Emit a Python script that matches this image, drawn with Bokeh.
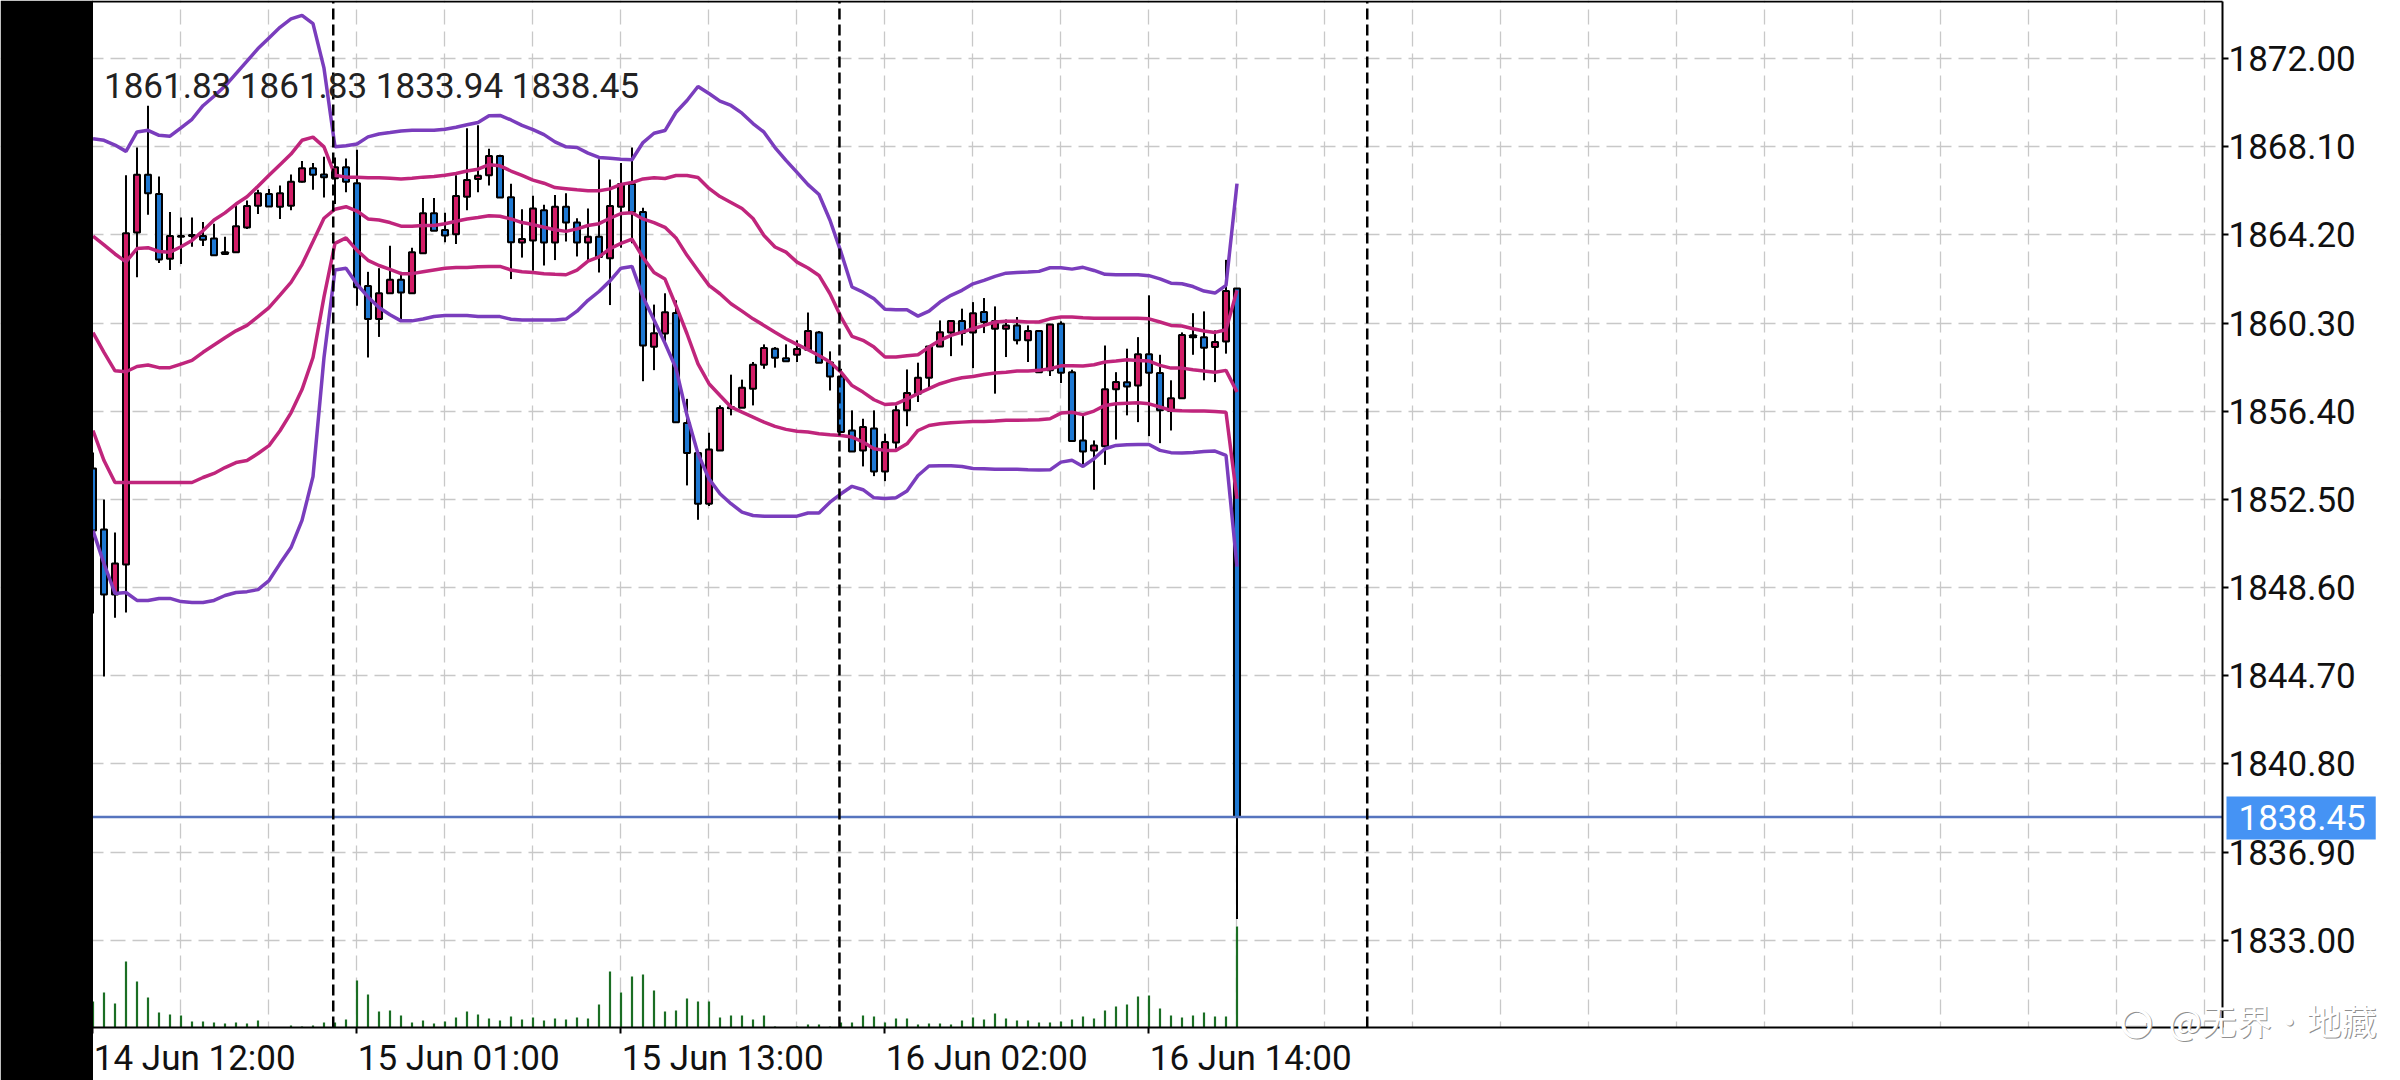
from bokeh.plotting import figure
from bokeh.models import (ColumnDataSource, FixedTicker, Label, BoxAnnotation, Range1d, LinearAxis, Grid,
                          NumeralTickFormatter)
from bokeh.embed import file_html
from bokeh.resources import INLINE

opens = [1853.87,1851.17,1848.29,1849.62,1864.31,1866.87,1866.01,1863.15,1864.15,1864.15,1864.15,1864.04,1863.44,1863.44,1864.53,
         1865.49,1866.01,1865.45,1865.49,1866.55,1867.15,1866.88,1866.71,1867.20,1866.49,1861.94,1860.48,1861.62,1862.22,1861.62,
         1863.39,1865.16,1864.42,1864.23,1865.89,1866.68,1866.84,1867.69,1865.87,1863.87,1863.96,1865.29,1863.87,1865.45,1864.75,
         1863.87,1864.12,1863.17,1865.45,1866.46,1865.22,1859.25,1859.84,1860.75,1855.88,1854.55,1852.31,1854.67,1856.53,1856.56,
         1857.40,1858.46,1859.17,1858.75,1858.90,1859.12,1859.89,1858.56,1857.94,1855.55,1854.67,1855.64,1853.74,1855.02,1856.44,
         1857.18,1857.88,1859.27,1859.89,1860.39,1859.89,1860.79,1860.05,1860.05,1860.20,1859.54,1859.95,1858.21,1860.27,1858.13,
         1855.11,1854.67,1854.85,1857.38,1857.68,1857.54,1858.92,1858.09,1856.41,1856.98,1859.68,1859.68,1859.24,1859.49,1861.83]
highs = [1854.58,1852.50,1851.04,1866.84,1868.07,1869.92,1866.79,1865.22,1864.97,1864.97,1864.78,1864.70,1864.12,1865.57,1865.73,
         1866.20,1866.24,1866.39,1866.88,1867.47,1867.39,1867.66,1867.63,1867.58,1867.97,1862.57,1862.73,1863.72,1862.57,1863.63,
         1865.84,1865.84,1865.18,1866.84,1868.92,1869.05,1868.02,1867.75,1866.47,1865.34,1865.94,1865.54,1865.97,1866.05,1864.94,
         1865.37,1867.55,1866.65,1867.39,1868.07,1865.41,1861.12,1861.62,1861.31,1856.95,1854.55,1855.45,1856.66,1858.02,1857.80,
         1858.58,1859.36,1859.24,1859.36,1859.54,1860.77,1859.95,1859.05,1858.28,1856.44,1856.07,1856.44,1855.41,1856.66,1858.25,
         1858.55,1859.31,1860.42,1860.42,1860.94,1861.23,1861.41,1861.04,1860.46,1860.57,1860.20,1859.95,1860.27,1860.38,1858.24,
         1856.19,1855.11,1859.31,1858.13,1859.17,1859.68,1861.53,1858.90,1857.77,1859.89,1860.74,1860.82,1859.98,1863.10,1861.83]
lows = [1847.45,1844.66,1847.27,1847.50,1862.33,1865.10,1862.96,1862.65,1862.92,1863.68,1863.71,1863.30,1863.36,1863.44,1864.47,
        1865.13,1865.46,1864.91,1865.29,1866.52,1866.20,1865.86,1865.57,1866.09,1861.07,1858.78,1859.69,1861.62,1860.48,1861.62,
        1863.39,1864.39,1863.88,1863.80,1865.30,1866.09,1866.39,1865.86,1862.25,1863.20,1862.62,1862.85,1863.09,1863.91,1863.25,
        1863.01,1862.54,1861.10,1863.64,1863.83,1857.73,1858.22,1859.33,1855.92,1853.12,1851.60,1852.21,1854.67,1856.22,1856.56,
        1856.66,1858.28,1858.33,1858.61,1858.58,1859.09,1858.55,1857.32,1855.48,1854.62,1853.96,1853.53,1853.31,1854.74,1855.74,
        1856.81,1857.40,1859.24,1858.84,1859.31,1858.31,1859.86,1857.18,1858.80,1859.36,1858.58,1858.13,1857.96,1857.65,1855.04,
        1854.00,1852.93,1854.03,1855.15,1856.22,1855.92,1855.30,1854.99,1855.55,1856.98,1858.90,1857.77,1857.69,1858.95,1833.94]
closes = [1851.12,1848.29,1849.66,1864.28,1866.87,1866.05,1863.12,1864.15,1864.12,1864.20,1863.99,1863.30,1863.36,1864.59,1865.48,
          1866.05,1865.46,1866.05,1866.55,1867.15,1866.87,1866.76,1867.20,1866.55,1861.89,1860.48,1861.62,1862.22,1861.65,1863.44,
          1865.16,1864.39,1864.18,1865.92,1866.63,1866.82,1867.69,1865.86,1863.88,1864.02,1865.37,1863.87,1865.45,1864.75,1863.87,
          1864.12,1863.23,1865.48,1866.46,1865.22,1859.31,1859.85,1860.78,1855.92,1854.55,1852.31,1854.71,1856.54,1856.59,1857.44,
          1858.46,1859.20,1858.77,1858.61,1859.15,1859.95,1858.55,1857.94,1855.48,1854.62,1855.70,1853.74,1855.04,1856.44,1857.21,
          1857.88,1859.27,1859.90,1860.39,1859.86,1860.74,1860.35,1860.39,1860.20,1859.54,1859.95,1858.13,1860.24,1858.10,1855.08,
          1854.62,1854.89,1857.38,1857.69,1857.50,1858.92,1858.10,1856.44,1856.98,1859.77,1859.76,1859.21,1859.46,1861.72,1838.45]
volumes = [26,35,24,66,46,30,15,13,12,6,6,5,4,5,4,7,0,0,2,1,2,5,5,8,47,33,16,17,12,5,7,4,6,10,16,13,9,7,11,8,10,7,9,8,10,9,23,56,35,
           51,53,37,16,17,29,26,26,10,12,12,8,12,1,0,1,3,3,1,5,5,12,11,5,9,9,3,4,4,3,7,10,8,14,9,7,7,5,5,6,8,11,9,17,21,23,31,32,19,12,
           10,12,15,11,11,101]

band_upper2 = [1868.46,1868.39,1868.18,1867.90,1868.76,1868.83,1868.61,1868.57,1868.94,1869.32,1869.92,1870.34,1870.79,1871.34,1871.89,
               1872.45,1872.92,1873.39,1873.76,1873.92,1873.55,1871.58,1868.10,1868.15,1868.23,1868.54,1868.67,1868.73,1868.80,1868.83,
               1868.83,1868.83,1868.88,1868.97,1869.08,1869.18,1869.48,1869.49,1869.29,1869.05,1868.86,1868.64,1868.32,1868.10,1868.07,
               1867.82,1867.63,1867.60,1867.55,1867.53,1868.29,1868.70,1868.82,1869.63,1870.15,1870.77,1870.46,1870.12,1869.93,1869.59,
               1869.13,1868.75,1868.07,1867.50,1866.97,1866.43,1865.99,1864.85,1863.44,1861.90,1861.67,1861.38,1860.91,1860.89,1860.89,
               1860.61,1860.83,1861.23,1861.53,1861.75,1862.04,1862.19,1862.37,1862.51,1862.54,1862.56,1862.59,1862.75,1862.75,1862.69,
               1862.77,1862.63,1862.46,1862.44,1862.44,1862.44,1862.40,1862.26,1862.07,1862.04,1861.92,1861.72,1861.63,1861.97,1866.47]
band_upper1 = [1864.15,1863.76,1863.36,1863.01,1863.60,1863.64,1863.47,1863.44,1863.68,1863.96,1864.39,1864.86,1865.18,1865.57,1865.89,
               1866.36,1866.84,1867.31,1867.78,1868.39,1868.53,1868.10,1866.84,1866.76,1866.76,1866.73,1866.73,1866.71,1866.68,1866.71,
               1866.76,1866.79,1866.84,1866.92,1867.03,1867.11,1867.31,1867.26,1867.03,1866.84,1866.63,1866.49,1866.30,1866.25,1866.20,
               1866.16,1866.16,1866.24,1866.44,1866.52,1866.68,1866.73,1866.70,1866.83,1866.83,1866.74,1866.26,1865.90,1865.64,1865.37,
               1864.93,1864.18,1863.67,1863.44,1863.00,1862.74,1862.41,1861.60,1860.57,1859.71,1859.54,1859.24,1858.80,1858.80,1858.86,
               1858.90,1859.24,1859.54,1859.76,1859.90,1860.05,1860.20,1860.35,1860.38,1860.38,1860.35,1860.35,1860.49,1860.57,1860.57,
               1860.54,1860.52,1860.52,1860.52,1860.52,1860.52,1860.49,1860.35,1860.20,1860.17,1860.05,1859.95,1859.89,1860.01,1861.75]
band_mid = [1859.88,1859.01,1858.19,1858.15,1858.38,1858.45,1858.33,1858.33,1858.49,1858.65,1859.01,1859.33,1859.65,1859.96,1860.20,
            1860.59,1860.99,1861.54,1862.10,1862.89,1863.91,1864.94,1865.34,1865.45,1865.26,1864.91,1864.86,1864.75,1864.59,1864.59,
            1864.62,1864.62,1864.70,1864.81,1864.91,1864.97,1865.05,1865.03,1864.91,1864.75,1864.66,1864.54,1864.43,1864.36,1864.47,
            1864.62,1864.70,1864.94,1865.15,1865.18,1864.91,1864.75,1864.54,1864.07,1863.30,1862.63,1861.97,1861.60,1861.16,1860.83,
            1860.49,1860.20,1859.90,1859.61,1859.36,1859.12,1858.87,1858.58,1858.13,1857.54,1857.25,1856.91,1856.70,1856.73,1856.95,
            1857.18,1857.40,1857.62,1857.77,1857.88,1857.94,1858.03,1858.09,1858.13,1858.18,1858.18,1858.21,1858.28,1858.41,1858.41,
            1858.40,1858.46,1858.58,1858.62,1858.68,1858.65,1858.62,1858.43,1858.31,1858.31,1858.24,1858.18,1858.13,1858.21,1857.25]
band_lower1 = [1855.55,1854.22,1853.25,1853.25,1853.25,1853.25,1853.25,1853.25,1853.25,1853.25,1853.47,1853.65,1853.91,1854.13,1854.22,
               1854.53,1854.88,1855.54,1856.33,1857.36,1858.78,1861.46,1863.83,1864.07,1863.52,1863.08,1862.85,1862.68,1862.49,1862.49,
               1862.57,1862.65,1862.73,1862.76,1862.76,1862.79,1862.81,1862.81,1862.65,1862.57,1862.54,1862.49,1862.46,1862.44,1862.65,
               1863.04,1863.23,1863.60,1863.83,1864.02,1863.20,1862.54,1862.25,1861.07,1859.83,1858.50,1857.62,1857.10,1856.59,1856.36,
               1856.14,1855.92,1855.73,1855.60,1855.52,1855.48,1855.41,1855.36,1855.33,1855.26,1855.04,1854.74,1854.67,1854.67,1854.96,
               1855.55,1855.77,1855.85,1855.89,1855.92,1855.95,1855.95,1855.97,1856.00,1856.00,1856.01,1856.03,1856.07,1856.32,1856.36,
               1856.25,1856.41,1856.66,1856.73,1856.76,1856.78,1856.73,1856.59,1856.44,1856.42,1856.41,1856.41,1856.39,1856.36,1852.53]
band_lower2 = [1851.12,1849.66,1848.34,1848.38,1848.03,1848.03,1848.12,1848.12,1847.98,1847.94,1847.94,1848.03,1848.25,1848.38,1848.42,
               1848.51,1848.91,1849.66,1850.37,1851.57,1853.51,1858.78,1862.65,1862.73,1862.02,1861.46,1860.99,1860.67,1860.40,1860.40,
               1860.48,1860.59,1860.64,1860.64,1860.64,1860.59,1860.59,1860.59,1860.47,1860.44,1860.44,1860.44,1860.44,1860.48,1860.83,
               1861.31,1861.70,1862.17,1862.73,1862.81,1861.46,1860.44,1859.41,1858.30,1856.22,1854.52,1853.41,1852.75,1852.31,1851.94,
               1851.79,1851.76,1851.76,1851.76,1851.76,1851.90,1851.90,1852.38,1852.75,1853.08,1852.93,1852.57,1852.54,1852.57,1852.87,
               1853.56,1853.98,1853.99,1853.99,1853.96,1853.87,1853.86,1853.84,1853.83,1853.83,1853.81,1853.80,1853.81,1854.15,1854.23,
               1853.96,1854.30,1854.74,1854.89,1854.92,1854.93,1854.93,1854.67,1854.57,1854.55,1854.58,1854.62,1854.64,1854.45,1849.53]

price_ticks = [1872.00,1868.10,1864.20,1860.30,1856.40,1852.50,1848.60,1844.70,1840.80,1836.90,1833.00]
time_tick_bars = [0,24,48,72,96]
time_labels = ["14 Jun 12:00","15 Jun 01:00","15 Jun 13:00","16 Jun 02:00","16 Jun 14:00"]
separator_bars = [21.84,67.86,115.84]
last_price = 1838.45
header_text = "1861.83 1861.83 1833.94 1838.45"
watermark = "@无界·地藏"

FONT = "Roboto"
FSIZE = "35px"
CRIMSON = "#D21C66"
BLUE = "#1E78D2"
PURPLE = "#7A3DBD"
BAND = "#C0257C"

# the chart's own window inside the canvas (the frame spans the whole canvas so that
# the strip, the price tag and the watermark can sit outside the chart window)
X0, X1 = 0.0, 193.59
Y0, Y1 = 1829.13, 1874.51

bars = list(range(len(closes)))
colors = [BLUE if c < o else CRIMSON for o, c in zip(opens, closes)]
src = ColumnDataSource(dict(x=bars, o=opens, h=highs, l=lows, c=closes, v=volumes, color=colors,
                            u2=band_upper2, u1=band_upper1, m=band_mid, l1=band_lower1, l2=band_lower2))

p = figure(width=2400, height=1080, output_backend="svg", toolbar_location=None,
           x_range=Range1d(-8.409, 209.773), y_range=Range1d(1826.79, 1874.575),
           x_axis_location=None, y_axis_location=None,
           min_border_left=0, min_border_right=0, min_border_top=0, min_border_bottom=0,
           background_fill_color="white", border_fill_color="white")
p.styles = {"position": "absolute", "left": "0px", "top": "0px"}
p.outline_line_color = None
p.grid.visible = False
p.extra_y_ranges = {"vol": Range1d(-53, 1027)}

# grid, then white masks over the part that lies outside the chart window
p.add_layout(Grid(dimension=0, ticker=FixedTicker(ticks=list(range(8, 193, 8))), grid_line_color="#c8c8c8",
                  grid_line_width=1.3, grid_line_dash="15 7"))
p.add_layout(Grid(dimension=1, ticker=FixedTicker(ticks=price_ticks), grid_line_color="#c8c8c8",
                  grid_line_width=1.3, grid_line_dash="15 7"))
p.add_layout(BoxAnnotation(left=X1, fill_color="white", fill_alpha=1, line_color=None, level="underlay"))
p.add_layout(BoxAnnotation(top=Y0, fill_color="white", fill_alpha=1, line_color=None, level="underlay"))

# axes
yaxis = LinearAxis(fixed_location=X1, bounds=(Y0, Y1), ticker=FixedTicker(ticks=price_ticks),
                   formatter=NumeralTickFormatter(format="0.00"),
                   major_tick_out=6, major_tick_in=0, minor_tick_out=0,
                   major_tick_line_color="black", major_tick_line_width=2,
                   axis_line_color="black", axis_line_width=2, major_label_standoff=0,
                   major_label_text_font=FONT, major_label_text_font_size=FSIZE, major_label_text_color="#111111")
p.add_layout(yaxis, "right")

LABEL_SHIFT = 9.25
centres = [t + LABEL_SHIFT for t in time_tick_bars]
xaxis = LinearAxis(fixed_location=Y0, bounds=(X0, X1), ticker=FixedTicker(ticks=centres, minor_ticks=time_tick_bars),
                   major_label_overrides={c: t for c, t in zip(centres, time_labels)},
                   major_tick_out=6, major_tick_in=0, major_tick_line_color=None,
                   minor_tick_out=6, minor_tick_in=0, minor_tick_line_color="black", minor_tick_line_width=2,
                   axis_line_color="black", axis_line_width=2, major_label_standoff=4,
                   major_label_text_font=FONT, major_label_text_font_size=FSIZE, major_label_text_color="#111111")
p.add_layout(xaxis, "below")

topline = LinearAxis(fixed_location=Y1, bounds=(X0, X1), ticker=FixedTicker(ticks=[]), major_tick_out=0, minor_tick_out=0,
                     major_tick_line_color=None, minor_tick_line_color=None, axis_line_color="black", axis_line_width=2,
                     major_label_text_font_size="0px")
p.add_layout(topline, "above")

# volume
p.vbar(x="x", top="v", bottom=0, width=0.2, source=src, y_range_name="vol",
       fill_color="#1B6E24", line_color=None)

# candles
p.segment(x0="x", y0="h", x1="x", y1="l", source=src, line_color="black", line_width=2)
p.vbar(x="x", top="o", bottom="c", width=0.55, source=src, fill_color="color", line_color="black", line_width=2)

# price line
p.segment(x0=[X0], y0=[last_price], x1=[X1], y1=[last_price], line_color="#5674BE", line_width=2.5)

# bands
for key, col in [("u2", PURPLE), ("u1", BAND), ("m", BAND), ("l1", BAND), ("l2", PURPLE)]:
    p.line("x", key, source=src, line_color=col, line_width=3.5)

# period separators
p.segment(x0=separator_bars, y0=[Y0] * len(separator_bars), x1=separator_bars, y1=[Y1] * len(separator_bars),
          line_color="black", line_width=2.5, line_dash="11 5")

# black strip on the left
p.add_layout(BoxAnnotation(right=X0, fill_color="black", fill_alpha=1, line_color=None))

# header
p.add_layout(Label(x=1.0, y=1870.75, text=header_text, text_font=FONT, text_font_size="35px",
                   text_color="#222222", text_baseline="alphabetic", text_align="left"))

# price tag
p.add_layout(Label(x=X1, y=last_price, x_offset=4, y_offset=-1, text=f"{last_price:.2f}", text_font=FONT,
                   text_font_size=FSIZE, text_color="white", text_baseline="middle", text_align="left",
                   background_fill_color="#4593F4",
                   padding=dict(left=12, right=10, top=9, bottom=9)))

# watermark
for dx, dy, col in [(1, -1, "#8f8f8f"), (0, 0, "white")]:
    p.add_layout(Label(x=188.7, y=Y0, x_offset=dx, y_offset=8 + dy, text=watermark,
                       text_font="Noto Sans CJK SC", text_font_size="35px", text_color=col,
                       text_baseline="alphabetic", text_align="left"))
    p.add_layout(Label(x=184.0, y=Y0, x_offset=dx, y_offset=6 + dy, text="⊖",
                       text_font="DejaVu Sans", text_font_size="46px", text_color=col,
                       text_baseline="alphabetic", text_align="left"))

open("out.html", "w").write(file_html(p, INLINE))
